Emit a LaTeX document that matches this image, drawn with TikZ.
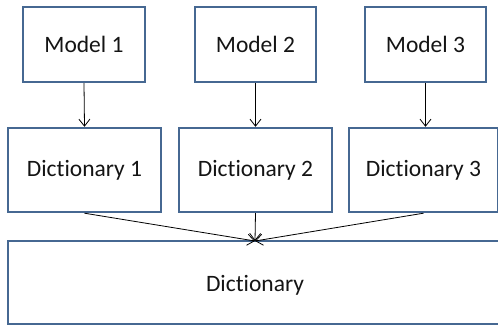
\documentclass[tikz,border=0pt]{standalone}
\usepackage{fontspec}
\setmainfont[Ligatures=NoCommon]{Carlito}
\usetikzlibrary{arrows.meta}
\definecolor{boxblue}{RGB}{70,104,146}
\definecolor{txt}{RGB}{20,20,20}
\begin{document}
\begin{tikzpicture}[x=1pt,y=-1pt,
  box/.style={draw=boxblue,line width=2.4pt,fill=white,rectangle,inner sep=0pt,
    text=txt,font=\fontsize{23.5}{28}\selectfont},
  conn/.style={draw=black,line width=0.8pt,-{Straight Barb[length=7pt,width=11pt]}}]
\useasboundingbox (0,0) rectangle (498,324);
\clip (0,0) rectangle (498,324);
\node[box,minimum width=122pt,minimum height=75pt] (m1) at (84,44.5) {Model 1};
\node[box,minimum width=121pt,minimum height=75pt] (m2) at (255.5,44.5) {Model 2};
\node[box,minimum width=121pt,minimum height=75pt] (m3) at (425.5,44.5) {Model 3};
\node[box,minimum width=153pt,minimum height=84pt] (d1) at (84.5,170) {Dictionary 1};
\node[box,minimum width=153pt,minimum height=84pt] (d2) at (255.5,170) {Dictionary 2};
\node[box,minimum width=149pt,minimum height=84pt] (d3) at (423.5,170) {Dictionary 3};
\node[box,minimum width=494pt,minimum height=83pt] (dd) at (255,282.5) {};
\node[text=txt,font=\fontsize{23.5}{28}\selectfont] (ddt) at (255,285) {Dictionary};
\coordinate (join) at (255,241);
\draw[conn] (m1.south) -- (d1.north);
\draw[conn] (m2.south) -- (d2.north);
\draw[conn] (m3.south) -- (d3.north -| m3.south);
\draw[conn] (d1.south) -- (join);
\draw[conn] (d2.south) -- (join);
\draw[conn] (d3.south) -- (join);
\end{tikzpicture}
\end{document}
